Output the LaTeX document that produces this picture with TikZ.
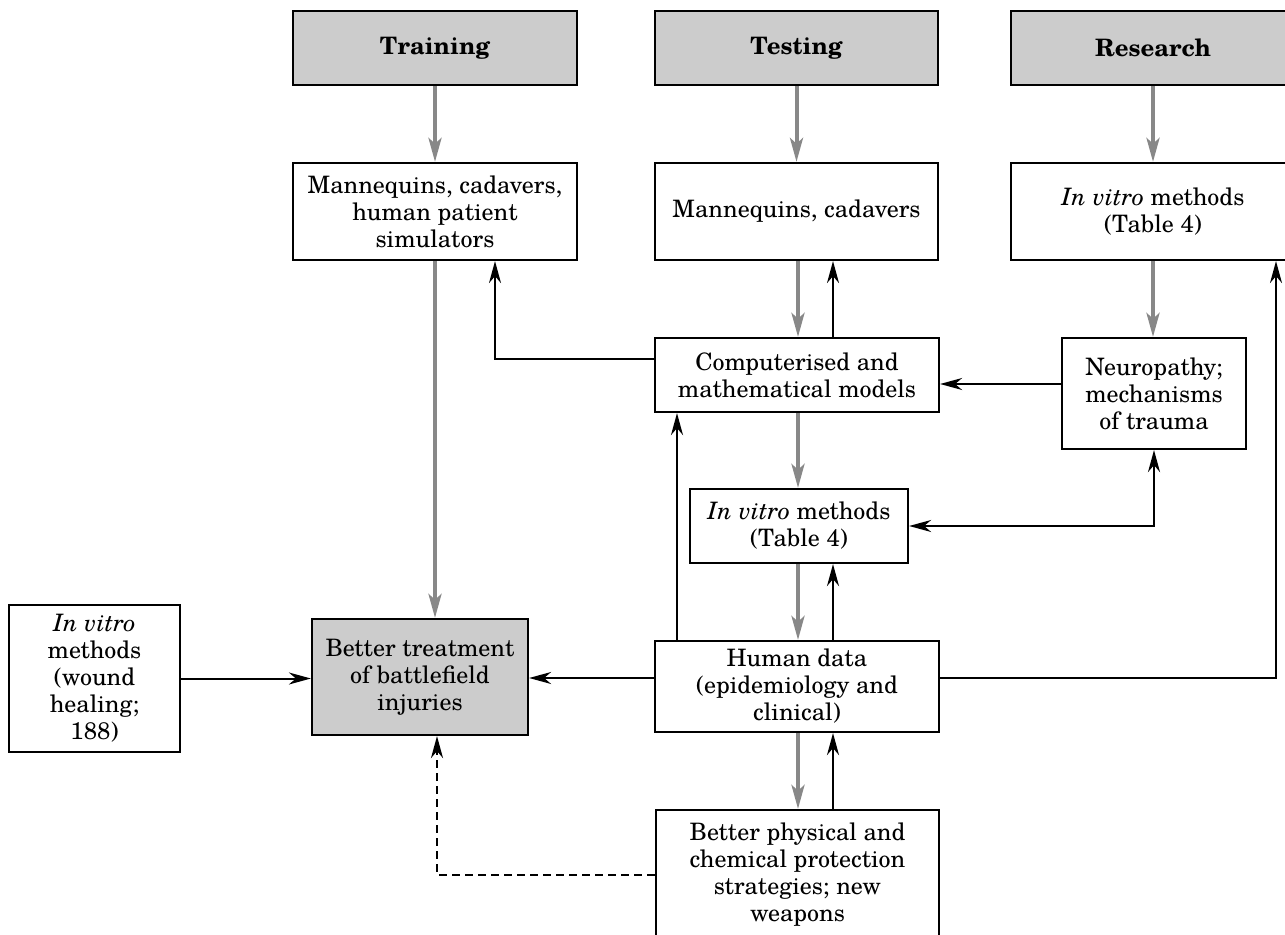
\documentclass[tikz,border=0pt]{standalone}
\usepackage{fontspec}
\setmainfont{texgyreschola}[Extension=.otf, UprightFont=*-regular, BoldFont=*-bold, ItalicFont=*-italic, BoldItalicFont=*-bolditalic]
\usetikzlibrary{arrows.meta,calc}
\definecolor{boxgray}{HTML}{CCCCCC}
\definecolor{arrgray}{HTML}{888888}
\begin{document}
\begin{tikzpicture}[x=0.5pt, y=-0.5pt,
  box/.style={draw, line width=1.1pt, rectangle, inner sep=0pt, align=center,
              font=\fontsize{12}{13.5}\selectfont, fill=white},
  hbox/.style={box, fill=boxgray, font=\fontsize{12}{13.5}\selectfont\bfseries},
  garrow/.style={draw=arrgray, line width=2pt, -{Stealth[length=12pt,width=6.5pt,inset=3pt]}},
  barrow/.style={draw=black, line width=1pt, -{Stealth[length=11pt,width=6pt,inset=3.5pt]}},
  bdouble/.style={draw=black, line width=1pt, {Stealth[length=11pt,width=6pt,inset=3.5pt]}-{Stealth[length=11pt,width=6pt,inset=3.5pt]}},
  darrow/.style={barrow, dash pattern=on 4pt off 2.5pt}
]
\fill[white] (0,0) rectangle (1285,935);
\useasboundingbox (0,0) rectangle (1285,935);

% header boxes
\node[hbox, minimum width=142pt, minimum height=37pt] (train) at (435,48) {Training};
\node[hbox, minimum width=141.5pt, minimum height=37pt] (test) at (796.5,48) {Testing};
\node[hbox, minimum width=142pt, minimum height=37pt] (research) at (1153,48) {Research};

% second row
\node[box, minimum width=142pt, minimum height=48.5pt] (mantrain) at (435,211.5) {Mannequins, cadavers,\\ human patient\\ simulators};
\node[box, minimum width=141.5pt, minimum height=48.5pt] (mantest) at (796.5,211.5) {Mannequins, cadavers};
\node[box, minimum width=142pt, minimum height=48.5pt] (invitroR) at (1153,211.5) {\textit{In vitro} methods\\ (Table 4)};

% middle
\node[box, minimum width=142pt, minimum height=37pt] (comp) at (797,375) {Computerised and\\ mathematical models};
\node[box, minimum width=92pt, minimum height=55.5pt] (neuro) at (1154,393.5) {Neuropathy;\\ mechanisms\\ of trauma};
\node[box, minimum width=109pt, minimum height=37pt] (invitroM) at (799,526) {\textit{In vitro} methods\\ (Table 4)};
\node[box, minimum width=142pt, minimum height=45.5pt] (human) at (797,686.5) {Human data\\ (epidemiology and\\ clinical)};
\node[box, fill=boxgray, minimum width=108pt, minimum height=58pt] (better) at (420,677) {Better treatment\\ of battlefield\\ injuries};
\node[box, minimum width=85.5pt, minimum height=73.5pt] (invitroL) at (94.5,678.5) {\textit{In vitro}\\ methods\\ (wound\\ healing;\\ 188)};
\node[box, minimum width=141.5pt, minimum height=65pt] (protect) at (797.5,875) {Better physical and\\ chemical protection\\ strategies; new\\ weapons};

% helper coordinates
\coordinate (gx) at (798,0);
\coordinate (bx) at (833,0);

% gray arrows
\draw[garrow] (train.south) -- (mantrain.north);
\draw[garrow] (test.south) -- (mantest.north);
\draw[garrow] (research.south) -- (invitroR.north);
\draw[garrow] (invitroR.south) -- (invitroR.south |- neuro.north);
\draw[garrow] (mantrain.south) -- (mantrain.south |- better.north);
\draw[garrow] (gx |- mantest.south) -- (gx |- comp.north);
\draw[garrow] (gx |- comp.south) -- (gx |- invitroM.north);
\draw[garrow] (gx |- invitroM.south) -- (gx |- human.north);
\draw[garrow] (gx |- human.south) -- (gx |- protect.north);

% black arrows
\draw[barrow] (bx |- comp.north) -- (bx |- mantest.south);
\draw[barrow] (bx |- human.north) -- (bx |- invitroM.south);
\draw[barrow] (bx |- protect.north) -- (bx |- human.south);
\draw[barrow] ($(comp.west)+(0,-16)$) -| ($(mantrain.south)+(60,0)$);
\coordinate (nw) at ($(neuro.west)+(0,-9.5)$);
\draw[barrow] (nw) -- (comp.east |- nw);
\draw[bdouble] (invitroM.east) -| (neuro.south);
\coordinate (hn) at ($(human.north)+(-120,0)$);
\draw[barrow] (hn) -- (hn |- comp.south);
\coordinate (he) at ($(human.east)+(0,-8.5)$);
\draw[barrow] (he) -| ($(invitroR.south)+(123,0)$);
\coordinate (hw) at ($(human.west)+(0,-8.5)$);
\draw[barrow] (hw) -- (better.east |- hw);
\draw[barrow] (invitroL.east) -- (better.west |- invitroL.east);
\draw[darrow] (protect.west) -| ($(better.south)+(17,0)$);
\end{tikzpicture}
\end{document}
